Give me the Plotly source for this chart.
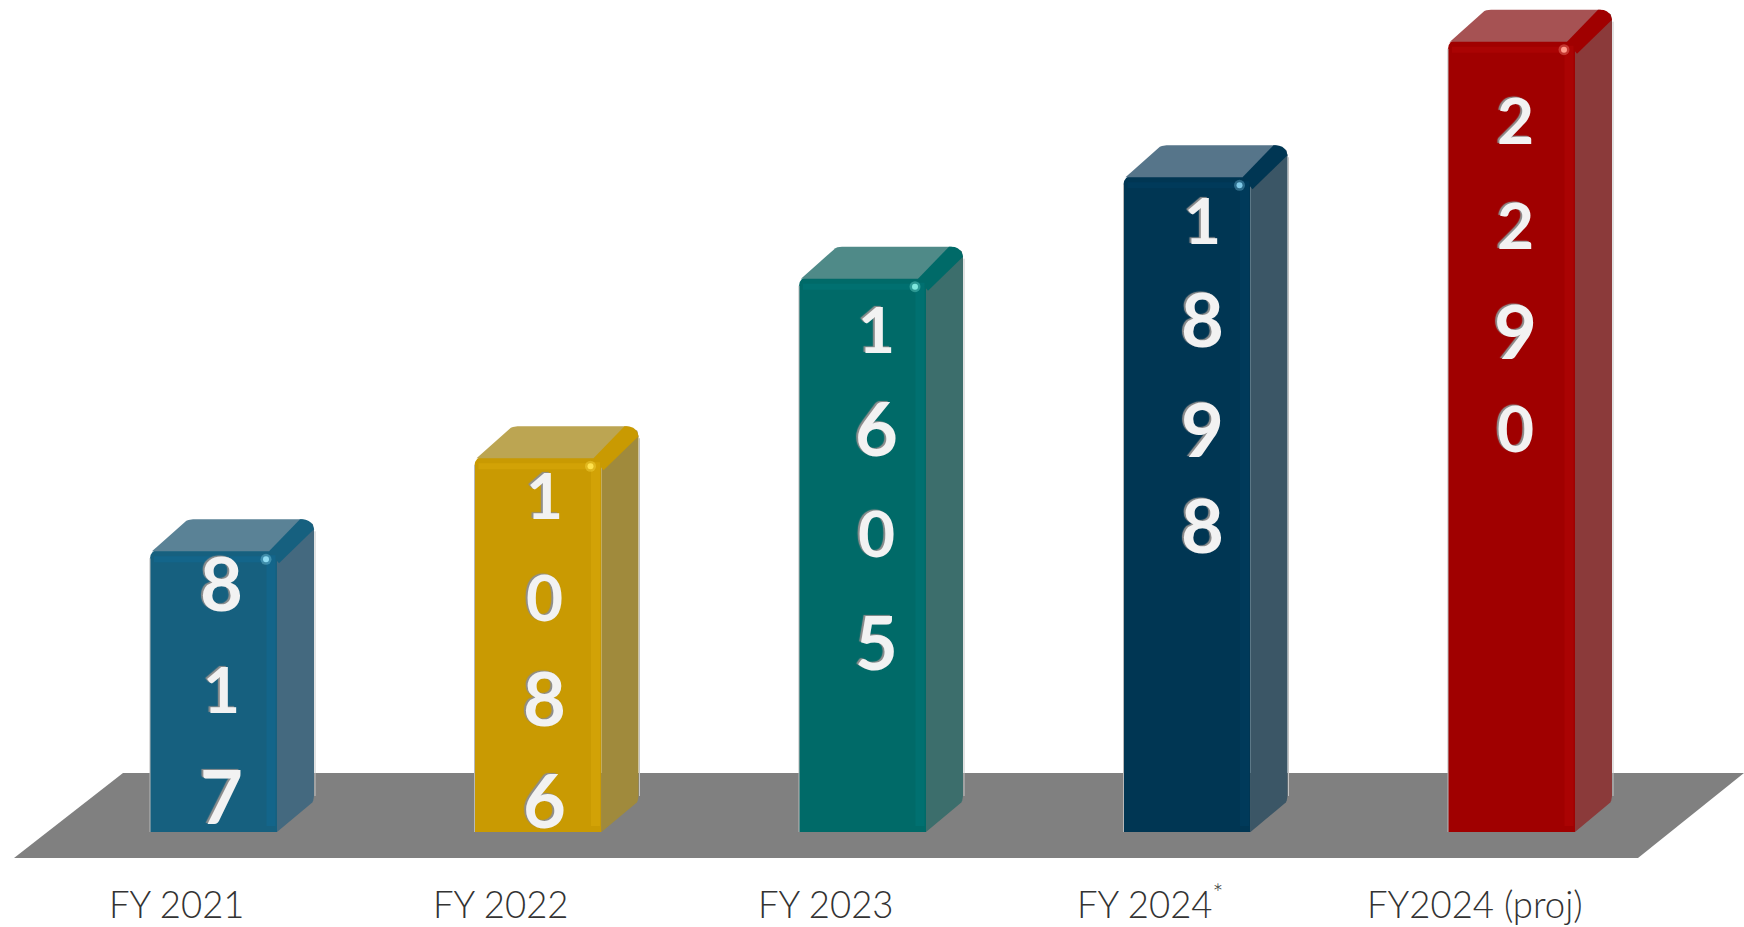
import plotly.graph_objects as go

# data
categories = ["FY 2021", "FY 2022", "FY 2023", "FY 2024<sup>*</sup>", "FY2024 (proj)"]
values = [817, 1086, 1605, 1898, 2290]
front_colors = ["#16607f", "#c99a02", "#006a68", "#003653", "#a00000"]
strip_colors = ["#13658a", "#d2a206", "#007070", "#003a5a", "#aa0303"]
side_colors = ["#44697f", "#a08a3c", "#3c6e6c", "#3b5666", "#8b3a3a"]
top_colors = ["#5a8296", "#bca552", "#4f8a88", "#56758a", "#a65253"]
glint_colors = ["#8fdcf2", "#ffe24d", "#7fe8de", "#7fc8e6", "#ff9a8a"]

# digits stacked down each bar, each with the level it sits at on the value axis
digits = [list("817"), list("1086"), list("1605"), list("1898"), list("2290")]
digit_levels = [
    [720, 415, 105],
    [975, 680, 390, 95],
    [1455, 1170, 865, 550],
    [1770, 1485, 1165, 890],
    [2060, 1755, 1450, 1170],
]
digit_shift = [8, 6, 14, 15, 4]
# the original numerals are old style, 0 1 2 stand lower than the rest
short_digits = "012"

# page geometry in pixels
W, H = 1744, 927
BASE_PX = 832      # where value 0 sits
PX_PER_UNIT = 0.346
STEP_PX = 324.5    # distance between bars
FIRST_PX = 213.5   # centre of first bar

BAR_W = 127 / STEP_PX
DX = 37 / STEP_PX     # depth of the 3d box, x axis units
DY = 30 / PX_PER_UNIT  # same, value units
UX = 1 / STEP_PX      # one pixel in x units
UY = 1 / PX_PER_UNIT  # one pixel in value units


def xpx(px):
    return (px - FIRST_PX) / STEP_PX


def ypx(px):
    return (BASE_PX - px) / PX_PER_UNIT


x_range = [xpx(0), xpx(W)]
y_range = [ypx(H), ypx(0)]


def rounded(points):
    # points are (x, y, radius in px), corners get a small quadratic curve
    out_x, out_y = [], []
    n = len(points)
    for k in range(n):
        x, y, r = points[k]
        if r == 0:
            out_x.append(x)
            out_y.append(y)
            continue
        px, py, _ = points[k - 1]
        nx, ny, _ = points[(k + 1) % n]
        d1 = (((x - px) / UX) ** 2 + ((y - py) / UY) ** 2) ** 0.5
        d2 = (((x - nx) / UX) ** 2 + ((y - ny) / UY) ** 2) ** 0.5
        ax, ay = x + (px - x) * r / d1, y + (py - y) * r / d1
        bx, by = x + (nx - x) * r / d2, y + (ny - y) * r / d2
        for t in [0, 0.2, 0.4, 0.6, 0.8, 1]:
            out_x.append((1 - t) ** 2 * ax + 2 * t * (1 - t) * x + t ** 2 * bx)
            out_y.append((1 - t) ** 2 * ay + 2 * t * (1 - t) * y + t ** 2 * by)
    return out_x + out_x[:1], out_y + out_y[:1]


def add_face(fig, points, color):
    px_x, px_y = rounded(points)
    fig.add_trace(go.Scatter(
        x=px_x, y=px_y, mode="lines", fill="toself", fillcolor=color,
        line=dict(width=0), hoverinfo="skip",
    ))


xs = list(range(len(values)))
fig = go.Figure()

# front faces
fig.add_trace(go.Bar(
    x=xs, y=values, width=BAR_W,
    marker=dict(color=front_colors, line=dict(width=0), cornerradius=9),
    hoverinfo="skip",
))

for i, v in enumerate(values):
    left, right = i - BAR_W / 2, i + BAR_W / 2
    # side face, faint grey outline on the far edge
    add_face(fig, [
        (right, 0, 0), (right + DX, DY, 6), (right + DX, v + DY, 10),
        (right, v, 0),
    ], side_colors[i])
    fig.add_trace(go.Scatter(
        x=[right + DX + UX, right + DX + UX], y=[DY + 6 * UY, v + DY - 12 * UY],
        mode="lines", line=dict(color="#c4c4c4", width=1), hoverinfo="skip",
    ))
    # top face
    add_face(fig, [
        (left + 2 * UX, v - 2 * UY, 0), (left + DX, v + DY, 6), (right + DX - 4 * UX, v + DY, 8),
        (right - 4 * UX, v - 2 * UY, 0),
    ], top_colors[i])
    # bevel running back from the front corner, narrows down the far edge
    add_face(fig, [
        (right - 8 * UX, v - 2 * UY, 0), (right + DX - 14 * UX, v + DY, 0),
        (right + DX - 2 * UX, v + DY, 10), (right + DX, v + DY - 10 * UY, 0),
        (right + 2 * UX, v - 14 * UY, 0),
    ], front_colors[i])
    # brighter strips along the top and near the right edge of the front
    fig.add_trace(go.Scatter(
        x=[left + 4 * UX, right - 8 * UX], y=[v - 10 * UY, v - 10 * UY],
        mode="lines", line=dict(color=strip_colors[i], width=6), hoverinfo="skip",
    ))
    fig.add_trace(go.Scatter(
        x=[right - 6 * UX, right - 6 * UX], y=[6 * UY, v - 6 * UY],
        mode="lines", line=dict(color=strip_colors[i], width=9), hoverinfo="skip",
    ))
    # thin light line on the left edge of the front
    fig.add_trace(go.Scatter(
        x=[left, left], y=[0, v - 9 * UY],
        mode="lines", line=dict(color="#b8b8b8", width=1), hoverinfo="skip",
    ))
    # little shine on the corner, soft halo then the spot
    fig.add_trace(go.Scatter(
        x=[right - 11 * UX], y=[v - 10 * UY],
        mode="markers", marker=dict(color=glint_colors[i], size=11, opacity=0.35), hoverinfo="skip",
    ))
    fig.add_trace(go.Scatter(
        x=[right - 11 * UX], y=[v - 10 * UY],
        mode="markers", marker=dict(color=glint_colors[i], size=6), hoverinfo="skip",
    ))

# digits, white with a grey edge
for i, col in enumerate(digits):
    for d, lev in zip(col, digit_levels[i]):
        fig.add_annotation(
            x=i, y=lev, text=d, showarrow=False, xshift=digit_shift[i],
            font=dict(family="Lato", size=64 if d in short_digits else 74,
                      color="#f2f2f2", weight="bold",
                      shadow="-2px -1px 1px #8e8e8e"),
        )

# category labels sit left of the bar centres
for i, c in enumerate(categories):
    fig.add_annotation(
        x=i, y=ypx(904), text=c, showarrow=False, xshift=-37,
        yshift=2 if "sup" in c else 0,
        font=dict(family="Lato", size=36.5, color="#333333", weight=300),
    )

fig.update_layout(
    width=W, height=H,
    margin=dict(l=0, r=0, t=0, b=0),
    paper_bgcolor="white", plot_bgcolor="white",
    showlegend=False,
    xaxis=dict(range=x_range, visible=False, fixedrange=True),
    yaxis=dict(range=y_range, visible=False, fixedrange=True),
    # floor under the bars
    shapes=[dict(
        type="path", layer="below", xref="x", yref="y", line_width=0, fillcolor="#808080",
        path=f"M {xpx(14)} {ypx(858)} L {xpx(123)} {ypx(773)} L {xpx(1744)} {ypx(773)} L {xpx(1638)} {ypx(858)} Z",
    )],
)

# the page's default body margin would push the figure off by 8px
fig.write_html("out.html", config=dict(displayModeBar=False),
               post_script="document.body.style.margin = '0';")
